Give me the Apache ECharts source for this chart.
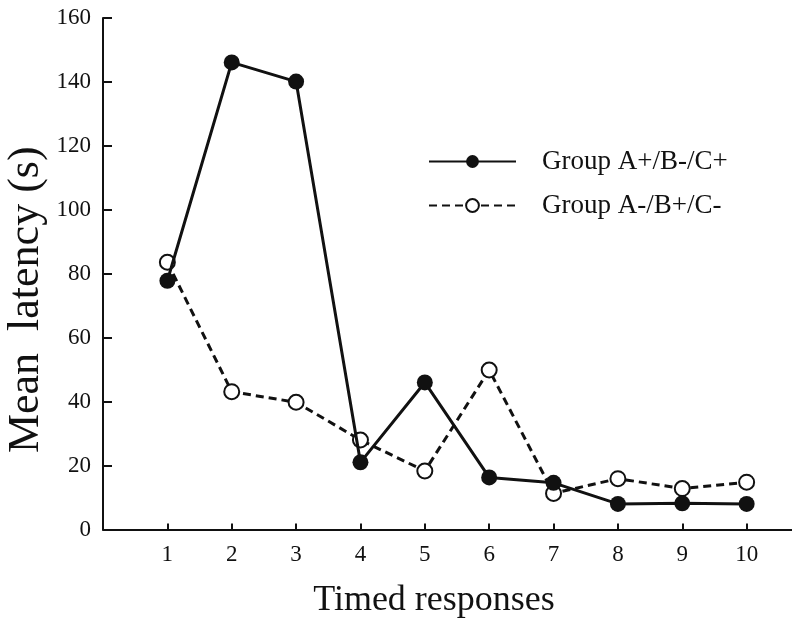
<!DOCTYPE html>
<html>
<head>
<meta charset="utf-8">
<script src="https://cdn.jsdelivr.net/npm/echarts@6/dist/echarts.min.js"></script>
<style>
    html, body { margin: 0; padding: 0; background: #fff; }
    #chart { width: 792px; height: 624px; }
</style>
</head>
<body>
<div id="chart"></div>
<script>
var responses = [1, 2, 3, 4, 5, 6, 7, 8, 9, 10];
var groupAplus = [77.8, 146.1, 140.1, 21.0, 46.0, 16.3, 14.6, 8.0, 8.2, 8.0];
var groupAminus = [83.6, 43.1, 39.8, 28.0, 18.3, 49.9, 11.3, 15.9, 12.8, 14.8];
var seriesNames = ['Group A+/B-/C+', 'Group A-/B+/C-'];
var yTicks = [0, 20, 40, 60, 80, 100, 120, 140, 160];

var font = 'Liberation Serif';

function pairs(values) {
    return responses.map(function (x, i) {
        return [x, values[i]];
    });
}

var myChart = echarts.init(document.getElementById('chart'));

option = {
    animation: false,
    backgroundColor: '#fff',
    grid: {
        left: 103,
        top: 18,
        width: 708,
        height: 511.5,
        containLabel: false,
        outerBoundsMode: 'none'
    },
    legend: {
        orient: 'vertical',
        left: 423,
        top: 143,
        itemWidth: 87,
        itemHeight: 16,
        itemGap: 17,
        data: seriesNames,
        textStyle: {
            fontFamily: font,
            fontSize: 27,
            color: '#111',
            padding: [0, 0, 0, 21]
        }
    },
    xAxis: {
        type: 'value',
        min: 0,
        max: 11,
        interval: 1,
        name: 'Timed responses',
        nameLocation: 'middle',
        nameGap: 53,
        nameMoveOverlap: false,
        nameTextStyle: {
            fontFamily: font,
            fontSize: 36,
            color: '#111',
            padding: [0, 46, 0, 0]
        },
        axisLine: {lineStyle: {color: '#111', width: 2}},
        axisTick: {inside: true, length: 6, lineStyle: {color: '#111', width: 2}},
        splitLine: {show: false},
        axisLabel: {
            fontFamily: font,
            fontSize: 23,
            color: '#111',
            margin: 14,
            formatter: function (v) {
                return responses.indexOf(v) >= 0 ? String(v) : '';
            }
        }
    },
    yAxis: {
        type: 'value',
        min: yTicks[0],
        max: yTicks[yTicks.length - 1],
        interval: 20,
        name: 'Mean  latency (s)',
        nameLocation: 'middle',
        nameGap: 55,
        nameMoveOverlap: false,
        nameTextStyle: {
            fontFamily: font,
            fontSize: 44,
            color: '#111',
            padding: [0, 52, 0, 0]
        },
        axisLine: {show: true, lineStyle: {color: '#111', width: 2}},
        axisTick: {show: true, inside: true, length: 9, lineStyle: {color: '#111', width: 2}},
        splitLine: {show: false},
        axisLabel: {
            fontFamily: font,
            fontSize: 23,
            color: '#111',
            margin: 12
        }
    },
    series: [
        {
            name: seriesNames[1],
            type: 'line',
            data: pairs(groupAminus),
            symbol: 'circle',
            symbolSize: 15,
            lineStyle: {color: '#111', width: 3, type: [8, 5]},
            itemStyle: {color: '#fff', borderColor: '#111', borderWidth: 2},
            z: 2
        },
        {
            name: seriesNames[0],
            type: 'line',
            data: pairs(groupAplus),
            symbol: 'circle',
            symbolSize: 16,
            lineStyle: {color: '#111', width: 3},
            itemStyle: {color: '#111'},
            z: 3
        }
    ]
};

myChart.setOption(option);
</script>
</body>
</html>
